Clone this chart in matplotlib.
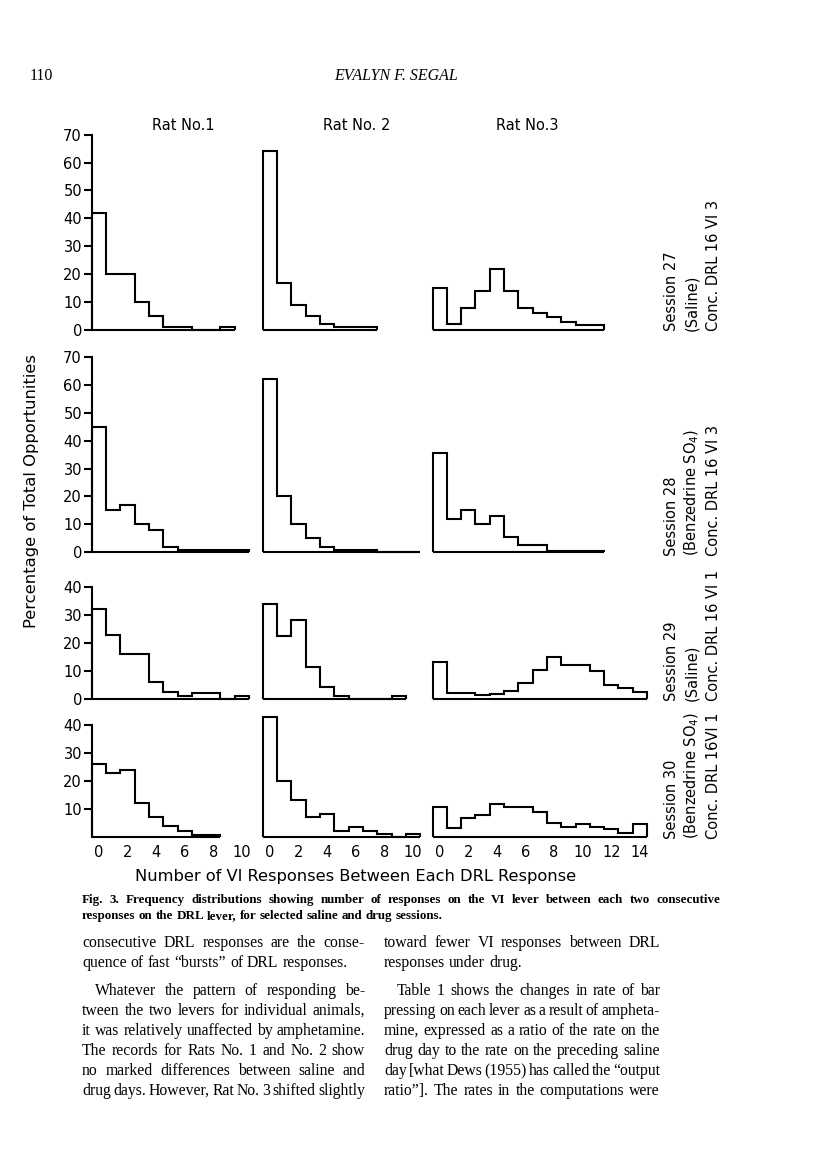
import matplotlib
matplotlib.use("Agg")
import matplotlib.pyplot as plt
import numpy as np

# ---------------- data (percentage of total opportunities per bin) ----------------
rat_titles = ["Rat No.1", "Rat No. 2", "Rat No.3"]
session_labels = [
    ["Session 27", "(Saline)", "Conc. DRL 16 VI 3"],
    ["Session 28", "(Benzedrine SO$_4$)", "Conc. DRL 16 VI 3"],
    ["Session 29", "(Saline)", "Conc. DRL 16 VI 1"],
    ["Session 30", "(Benzedrine SO$_4$)", "Conc. DRL 16VI 1"],
]
# Session 27
rat1_s27 = [42, 20, 20, 10, 5, 1, 1, 0, 0, 1]
rat2_s27 = [64, 17, 9, 5, 2, 1, 1, 1]
rat3_s27 = [15, 2, 8, 14, 22, 14, 8, 6, 4.5, 3, 1.8, 1.8]
# Session 28
rat1_s28 = [45, 15, 17, 10, 8, 2, 1, 1, 1, 1, 1]
rat2_s28 = [62, 20, 10, 5, 2, 1, 1, 1, 0, 0, 0]
rat3_s28 = [35.5, 12, 15, 10, 13, 5.6, 2.6, 2.6, 0.6, 0.6, 0.6, 0.6]
# Session 29
rat1_s29 = [32, 23, 16, 16, 6, 2.3, 1, 2.2, 2.2, 0, 1]
rat2_s29 = [34, 22.5, 28.3, 11.5, 4.3, 1, 0, 0, 0, 1]
rat3_s29 = [13.3, 2.2, 2.2, 1.2, 1.7, 2.9, 5.7, 10.3, 15, 12, 12, 10, 5, 4, 2.5]
# Session 30
rat1_s30 = [26, 23, 24, 12, 7, 4, 2, 0.5, 0.5]
rat2_s30 = [43, 20, 13, 7, 8, 2, 3.3, 2, 1, 0, 1]
rat3_s30 = [10.5, 3, 6.6, 7.8, 11.7, 10.8, 10.8, 8.8, 4.8, 3.6, 4.6, 3.6, 2.7, 1.2, 4.6]

ytick_values = [[0, 10, 20, 30, 40, 50, 60, 70],
                [0, 10, 20, 30, 40, 50, 60, 70],
                [0, 10, 20, 30, 40],
                [10, 20, 30, 40]]
ylim_tops = [70, 70, 40, 40]
xtick_rat12 = [0, 2, 4, 6, 8, 10]
xtick_rat3 = [0, 2, 4, 6, 8, 10, 12, 14]
x_label = "Number of VI Responses Between Each DRL Response"
y_label = "Percentage of Total Opportunities"

grid = [[rat1_s27, rat2_s27, rat3_s27],
        [rat1_s28, rat2_s28, rat3_s28],
        [rat1_s29, rat2_s29, rat3_s29],
        [rat1_s30, rat2_s30, rat3_s30]]

# ---------------- layout (pixels) ----------------
W, H = 816, 1176
fig = plt.figure(figsize=(W / 100, H / 100), dpi=100)
fig.patch.set_facecolor("white")

def fx(x):
    return x / W

def fy(y):
    return 1 - y / H

SANS = "DejaVu Sans"
SERIF = "Liberation Serif"
PPU = 2.79          # pixels per percent
BW = 14.3           # pixels per bin
row_base = [330, 552.3, 698.7, 836.7]
col_left = [91.7, 262.8, 432.5]
col_nbins = [11, 11, 15]
LW = 1.5

for r in range(4):
    for c in range(3):
        vals = np.asarray(grid[r][c], dtype=float)
        n = col_nbins[c]
        left = col_left[c]
        ax = fig.add_axes([fx(left), fy(row_base[r]), (n * BW) / W,
                           ylim_tops[r] * PPU / H])
        ax.set_facecolor("none")
        ax.set_xlim(-0.5, n - 0.5)
        ax.set_ylim(0, ylim_tops[r])
        edges = np.arange(len(vals) + 1) - 0.5
        ax.stairs(vals, edges, baseline=0, fill=False, color="black",
                  lw=LW, clip_on=False)
        ax.hlines(0, edges[0], edges[-1], color="black", lw=LW, clip_on=False)
        for s in ["top", "right", "bottom", "left"]:
            ax.spines[s].set_visible(False)
        if c == 0:
            ax.spines["left"].set_visible(True)
            ax.spines["left"].set_linewidth(LW)
            ax.spines["left"].set_bounds(0, ylim_tops[r])
            ax.set_yticks(ytick_values[r])
            ax.set_yticklabels([str(v) for v in ytick_values[r]],
                               fontsize=10.5, family=SANS)
            ax.tick_params(axis="y", length=6, width=LW, pad=1)
        else:
            ax.set_yticks([])
        if r == 3:
            xt = xtick_rat3 if c == 2 else xtick_rat12
            ax.set_xticks(xt)
            ax.set_xticklabels([str(v) for v in xt], fontsize=10.5, family=SANS)
            ax.tick_params(axis="x", length=0, pad=6)
        else:
            ax.set_xticks([])

# column titles
title_x = [183, 357, 527]
for t, x in zip(rat_titles, title_x):
    fig.text(fx(x), fy(125), t, ha="center", va="center", fontsize=10.5, family=SANS)

# session labels (rotated)
label_x = [672, 692, 713]
label_bottom = [331, 556, 701, 839]
for r in range(4):
    for k in range(3):
        fig.text(fx(label_x[k]), fy(label_bottom[r]), session_labels[r][k],
                 rotation=90, ha="center", va="bottom", fontsize=10.5, family=SANS)

# axis labels
fig.text(fx(32), fy(491), y_label, rotation=90, ha="center", va="center",
         fontsize=11.8, family=SANS)
fig.text(fx(356), fy(877), x_label, ha="center", va="center", fontsize=11.7,
         family=SANS)

# ---------------- page text ----------------
renderer = fig.canvas.get_renderer()

def draw_line(text, x0, x1, ybase, justify, **kw):
    words = text.split(" ")
    objs = [fig.text(0, 0, w, ha="left", va="baseline", **kw) for w in words]
    widths = [o.get_window_extent(renderer).width for o in objs]
    sp = fig.text(0, 0, "a a", **kw)
    sp2 = fig.text(0, 0, "aa", **kw)
    space = sp.get_window_extent(renderer).width - sp2.get_window_extent(renderer).width
    sp.remove(); sp2.remove()
    if justify and len(words) > 1:
        gap = (x1 - x0 - sum(widths)) / (len(words) - 1)
    else:
        gap = space
    x = x0
    for o, w in zip(objs, widths):
        o.set_position((fx(x), fy(ybase)))
        x += w + gap

# header
fig.text(fx(30), fy(80), "110", ha="left", va="baseline", fontsize=11.5, family=SERIF)
fig.text(fx(396), fy(80), "EVALYN F. SEGAL", ha="center", va="baseline",
         fontsize=11.5, family=SERIF, style="italic")

# caption
cap_kw = dict(fontsize=9.4, family=SERIF, weight="bold")
draw_line("Fig. 3. Frequency distributions showing number of responses on the VI lever between each two consecutive",
          82, 720, 903, True, **cap_kw)
draw_line("responses on the DRL lever, for selected saline and drug sessions.",
          82, 720, 919, False, **cap_kw)

body_kw = dict(fontsize=11.3, family=SERIF)
left_lines = [
    ("consecutive DRL responses are the conse-", True, 82),
    ("quence of fast \u201cbursts\u201d of DRL responses.", False, 82),
    ("Whatever the pattern of responding be-", True, 95),
    ("tween the two levers for individual animals,", True, 82),
    ("it was relatively unaffected by amphetamine.", True, 82),
    ("The records for Rats No. 1 and No. 2 show", True, 82),
    ("no marked differences between saline and", True, 82),
    ("drug days. However, Rat No. 3 shifted slightly", True, 82),
]
right_lines = [
    ("toward fewer VI responses between DRL", True, 384),
    ("responses under drug.", False, 384),
    ("Table 1 shows the changes in rate of bar", True, 397),
    ("pressing on each lever as a result of ampheta-", True, 384),
    ("mine, expressed as a ratio of the rate on the", True, 384),
    ("drug day to the rate on the preceding saline", True, 384),
    ("day [what Dews (1955) has called the \u201coutput", True, 384),
    ("ratio\u201d]. The rates in the computations were", True, 384),
]
baselines = [947, 967, 995, 1015, 1035, 1055, 1075, 1095]
for (t, j, x0), yb in zip(left_lines, baselines):
    draw_line(t, x0, 365, yb, j, **body_kw)
for (t, j, x0), yb in zip(right_lines, baselines):
    draw_line(t, x0, 660, yb, j, **body_kw)

fig.savefig("out.png", dpi=100, facecolor="white")
